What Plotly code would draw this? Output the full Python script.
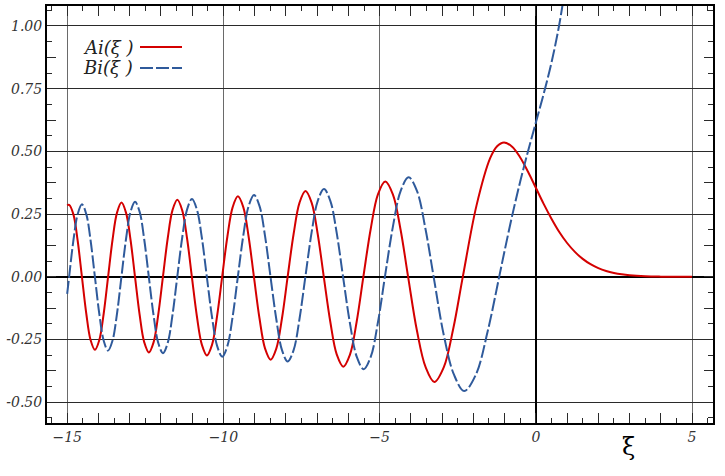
import plotly.graph_objects as go

# Ai(xi) (zeros, extrema and intermediate points)
ai_x = [-15.0, -14.937, -14.801, -14.664, -14.528, -14.389, -14.251, -14.112, -13.972, -13.831,
        -13.691, -13.548, -13.405, -13.262, -13.118, -12.973, -12.829, -12.681, -12.533, -12.385,
        -12.235, -12.086, -11.936, -11.782, -11.629, -11.475, -11.320, -11.164, -11.009, -10.849,
        -10.688, -10.528, -10.365, -10.203, -10.040, -9.872, -9.703, -9.535, -9.364, -9.194,
        -9.023, -8.845, -8.666, -8.488, -8.307, -8.125, -7.944, -7.753, -7.563, -7.372,
        -7.177, -6.982, -6.787, -6.579, -6.371, -6.163, -5.949, -5.735, -5.521, -5.287,
        -5.054, -4.820, -4.576, -4.332, -4.088, -3.808, -3.528, -3.248, -2.945, -2.641,
        -2.338, -1.898, -1.459, -1.24, -1.019, -0.75, -0.5, -0.25, 0.0, 0.25,
        0.5, 0.75, 1.0, 1.25, 1.5, 1.75, 2.0, 2.25, 2.5, 2.75,
        3.0, 3.5, 4.0, 4.5, 5.0]
ai_y = [0.285, 0.287, 0.249, 0.144, 0.0, -0.146, -0.252, -0.291, -0.252, -0.146,
        0.0, 0.148, 0.256, 0.296, 0.256, 0.148, 0.0, -0.151, -0.261, -0.301,
        -0.261, -0.151, 0.0, 0.154, 0.266, 0.307, 0.266, 0.154, 0.0, -0.157,
        -0.271, -0.313, -0.271, -0.157, 0.0, 0.161, 0.278, 0.321, 0.278, 0.161,
        0.0, -0.165, -0.286, -0.330, -0.286, -0.165, 0.0, 0.171, 0.296, 0.342,
        0.296, 0.171, 0.0, -0.179, -0.310, -0.358, -0.310, -0.179, 0.0, 0.190,
        0.329, 0.380, 0.329, 0.190, 0.0, -0.213, -0.360, -0.419, -0.360, -0.205,
        0.0, 0.285, 0.474, 0.521, 0.536, 0.518, 0.476, 0.419, 0.355, 0.291,
        0.232, 0.179, 0.135, 0.0996, 0.0717, 0.0505, 0.0349, 0.0236, 0.0157, 0.0102,
        0.0066, 0.0026, 0.00095, 0.00033, 0.00011]

# Bi(xi)
bi_x = [-15.0, -14.938, -14.801, -14.664, -14.527, -14.389, -14.251, -14.113, -13.972, -13.832,
        -13.691, -13.549, -13.406, -13.264, -13.119, -12.973, -12.828, -12.681, -12.534, -12.387,
        -12.236, -12.086, -11.935, -11.782, -11.630, -11.477, -11.320, -11.164, -11.007, -10.848,
        -10.689, -10.530, -10.366, -10.202, -10.038, -9.871, -9.705, -9.538, -9.365, -9.192,
        -9.019, -8.843, -8.668, -8.492, -8.308, -8.125, -7.941, -7.753, -7.565, -7.377,
        -7.179, -6.980, -6.782, -6.578, -6.374, -6.170, -5.951, -5.731, -5.512, -5.285,
        -5.058, -4.831, -4.578, -4.326, -4.073, -3.806, -3.538, -3.271, -2.945, -2.620,
        -2.294, -1.921, -1.547, -1.174, -1.0, -0.75, -0.5, -0.25, 0.0, 0.25,
        0.5, 0.75, 1.0, 1.2]
bi_y = [-0.068, 0.0, 0.145, 0.250, 0.289, 0.250, 0.145, 0.0, -0.147, -0.254,
        -0.294, -0.254, -0.147, 0.0, 0.149, 0.259, 0.299, 0.259, 0.149, 0.0,
        -0.152, -0.263, -0.304, -0.263, -0.152, 0.0, 0.155, 0.268, 0.310, 0.268,
        0.155, 0.0, -0.159, -0.275, -0.318, -0.275, -0.159, 0.0, 0.163, 0.282,
        0.326, 0.282, 0.163, 0.0, -0.168, -0.292, -0.337, -0.292, -0.168, 0.0,
        0.175, 0.303, 0.350, 0.303, 0.175, 0.0, -0.184, -0.319, -0.368, -0.319,
        -0.184, 0.0, 0.198, 0.343, 0.397, 0.343, 0.195, 0.0, -0.233, -0.390,
        -0.455, -0.390, -0.220, 0.0, 0.104, 0.248, 0.380, 0.501, 0.615, 0.729,
        0.854, 1.006, 1.207, 1.421]

x_ticks = [-15, -10, -5, 0, 5]
x_labels = ["\u221215", "\u221210", "\u22125", "0", "5"]
y_ticks = [-0.5, -0.25, 0.0, 0.25, 0.5, 0.75, 1.0]
y_labels = ["-0.50", "-0.25", "0.00", "0.25", "0.50", "0.75", "1.00"]

X_RANGE = [-15.646, 5.67]
Y_RANGE = [-0.5825, 1.0797]

RED = "#d40000"
BLUE = "#2f5a9b"
TICK = "#2a2a2a"

fig = go.Figure()
fig.add_trace(go.Scatter(x=ai_x, y=ai_y, mode="lines", name="Ai",
                         line=dict(color=RED, width=2, shape="spline", smoothing=1.0),
                         showlegend=False))
fig.add_trace(go.Scatter(x=bi_x, y=bi_y, mode="lines", name="Bi",
                         line=dict(color=BLUE, width=2, shape="spline", smoothing=1.0,
                                   dash="13px,3px"),
                         showlegend=False))
# invisible trace so the overlay axes (carrying the longer ticks) are drawn
fig.add_trace(go.Scatter(x=[x_ticks[0], x_ticks[-1]], y=[0, 0], xaxis="x2", yaxis="y2",
                         mode="lines", line=dict(width=0), showlegend=False))

tickfont = dict(family="DejaVu Serif", size=14, color="#333", style="italic")

fig.update_layout(
    width=725, height=476,
    margin=dict(l=47, r=12, t=6, b=53, autoexpand=False),
    paper_bgcolor="white", plot_bgcolor="white",
    xaxis=dict(range=X_RANGE, tickmode="array", tickvals=x_ticks, ticktext=x_labels,
               tickfont=tickfont, ticks="", showgrid=True, gridcolor="#6a6a6a",
               zeroline=True, zerolinecolor="black", zerolinewidth=2, automargin=False,
               showline=True, linecolor="black", linewidth=2, mirror="allticks",
               minor=dict(dtick=0.5, tick0=0, ticks="inside", ticklen=5, tickcolor=TICK,
                          tickwidth=1, showgrid=False)),
    yaxis=dict(range=Y_RANGE, tickmode="array", tickvals=y_ticks, ticktext=y_labels,
               tickfont=tickfont, ticks="", showgrid=True, gridcolor="#2a2a2a",
               zeroline=True, zerolinecolor="black", zerolinewidth=2, automargin=False,
               showline=True, linecolor="black", linewidth=2, mirror="allticks",
               minor=dict(dtick=0.0625, tick0=0, ticks="inside", ticklen=5, tickcolor=TICK,
                          tickwidth=1, showgrid=False)),
    xaxis2=dict(range=X_RANGE, overlaying="x", anchor="y2", dtick=1, tick0=0,
                ticks="inside", ticklen=10, tickcolor=TICK, tickwidth=1,
                showticklabels=False, showgrid=False, zeroline=False, showline=False,
                mirror="ticks", automargin=False),
    yaxis2=dict(range=Y_RANGE, overlaying="y", anchor="x2", dtick=0.125, tick0=0,
                ticks="inside", ticklen=9, tickcolor=TICK, tickwidth=1,
                showticklabels=False, showgrid=False, zeroline=False, showline=False,
                mirror="ticks", automargin=False),
)

# legend drawn as text + sample lines (text on the left as in the reference)
W, H = 666.0, 417.0
def px(xp):
    return (xp - 47.0) / W
def py(yp):
    return (423.0 - yp) / H

legfont = dict(family="DejaVu Serif", size=18, color="#222", style="italic")
fig.add_annotation(x=px(135), y=py(47), xref="paper", yref="paper", text="Ai(\u03be )",
                   showarrow=False, xanchor="right", yanchor="middle", font=legfont)
fig.add_annotation(x=px(135), y=py(68), xref="paper", yref="paper", text="Bi(\u03be )",
                   showarrow=False, xanchor="right", yanchor="middle", font=legfont)
fig.add_shape(type="line", xref="paper", yref="paper", x0=px(140), x1=px(182),
              y0=py(47), y1=py(47), line=dict(color=RED, width=2))
fig.add_shape(type="line", xref="paper", yref="paper", x0=px(140), x1=px(182),
              y0=py(68), y1=py(68), line=dict(color=BLUE, width=2, dash="13px,3px"))

# axis title
fig.add_annotation(x=px(628), y=py(447), xref="paper", yref="paper", text="\u03be",
                   showarrow=False, xanchor="center", yanchor="middle",
                   font=dict(family="DejaVu Serif", size=24, color="black"))

fig.write_html("out.html", config={"displayModeBar": False},
               post_script="document.body.style.margin='0';document.body.style.padding='0';")
